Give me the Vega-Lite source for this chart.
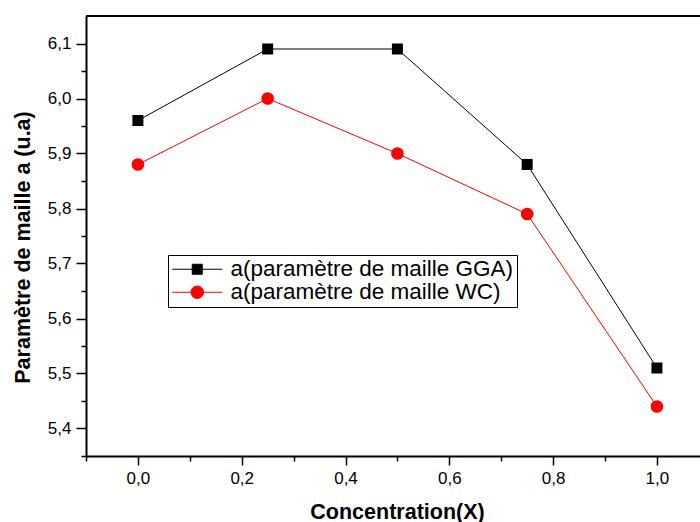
{
  "$schema": "https://vega.github.io/schema/vega-lite/v6.json",
  "width": 614,
  "height": 440,
  "autosize": {"type": "none"},
  "padding": {"left": 86, "top": 16, "right": 0, "bottom": 66},
  "background": "white",
  "config": {
    "view": {"stroke": null},
    "font": "Liberation Sans",
    "locale": {"number": {"decimal": ",", "thousands": ".", "grouping": [3], "currency": ["", " €"]}}
  },
  "data": {
    "values": [
      {"x": 0.0, "y": 5.96, "s": "a(paramètre de maille GGA)"},
      {"x": 0.25, "y": 6.09, "s": "a(paramètre de maille GGA)"},
      {"x": 0.5, "y": 6.09, "s": "a(paramètre de maille GGA)"},
      {"x": 0.75, "y": 5.88, "s": "a(paramètre de maille GGA)"},
      {"x": 1.0, "y": 5.51, "s": "a(paramètre de maille GGA)"},
      {"x": 0.0, "y": 5.88, "s": "a(paramètre de maille WC)"},
      {"x": 0.25, "y": 6.0, "s": "a(paramètre de maille WC)"},
      {"x": 0.5, "y": 5.9, "s": "a(paramètre de maille WC)"},
      {"x": 0.75, "y": 5.79, "s": "a(paramètre de maille WC)"},
      {"x": 1.0, "y": 5.44, "s": "a(paramètre de maille WC)"}
    ]
  },
  "layer": [
    {
      "transform": [{"filter": "datum.s == 'a(paramètre de maille WC)'"}],
      "mark": {"type": "line", "strokeWidth": 1, "color": "red"},
      "encoding": {
        "x": {
          "field": "x", "type": "quantitative",
          "scale": {"domain": [-0.1, 1.083], "nice": false, "zero": false},
          "axis": {
            "title": "Concentration(X)",
            "values": [-0.1, 0, 0.1, 0.2, 0.3, 0.4, 0.5, 0.6, 0.7, 0.8, 0.9, 1.0],
            "tickCount": 30,
            "labelExpr": "round(datum.value*10) % 2 != 0 ? '' : replace(format(datum.value, '.1f'), '.', ',')",
            "tickSize": {"condition": {"test": "round(datum.value*10) % 2 != 0", "value": 5}, "value": 9},
            "grid": false, "labelFlush": false, "labelOverlap": false,
            "domainColor": "black", "domainWidth": 2, "tickColor": "black", "tickWidth": 1.5,
            "labelFontSize": 17, "labelColor": "black", "labelPadding": 5,
            "titleFontSize": 21.5, "titleFontWeight": "bold", "titleColor": "black", "titlePadding": 15,
            "titleX": 311
          }
        },
        "y": {
          "field": "y", "type": "quantitative",
          "scale": {"domain": [5.35, 6.15], "nice": false, "zero": false},
          "axis": {
            "title": "Paramètre de maille a (u.a)",
            "values": [5.35, 5.4, 5.45, 5.5, 5.55, 5.6, 5.65, 5.7, 5.75, 5.8, 5.85, 5.9, 5.95, 6.0, 6.05, 6.1],
            "tickCount": 30,
            "labelExpr": "round(datum.value*20) % 2 != 0 ? '' : replace(format(datum.value, '.1f'), '.', ',')",
            "tickSize": {"condition": {"test": "round(datum.value*20) % 2 != 0", "value": 5}, "value": 10},
            "grid": false, "labelFlush": false, "labelOverlap": false,
            "domainColor": "black", "domainWidth": 2, "tickColor": "black", "tickWidth": 1.5,
            "labelFontSize": 17, "labelColor": "black", "labelPadding": 5,
            "titleFontSize": 21.5, "titleFontWeight": "bold", "titleColor": "black", "titlePadding": 13,
            "titleY": 231
          }
        }
      }
    },
    {
      "transform": [{"filter": "datum.s == 'a(paramètre de maille GGA)'"}],
      "mark": {"type": "line", "strokeWidth": 1, "color": "black"},
      "encoding": {
        "x": {"field": "x", "type": "quantitative"},
        "y": {"field": "y", "type": "quantitative"}
      }
    },
    {
      "transform": [{"filter": "datum.s == 'a(paramètre de maille GGA)'"}],
      "mark": {"type": "point", "filled": true, "opacity": 1, "shape": "square", "size": 121, "color": "black"},
      "encoding": {
        "x": {"field": "x", "type": "quantitative"},
        "y": {"field": "y", "type": "quantitative"}
      }
    },
    {
      "transform": [{"filter": "datum.s == 'a(paramètre de maille WC)'"}],
      "mark": {"type": "point", "filled": true, "opacity": 1, "shape": "circle", "size": 160, "color": "red"},
      "encoding": {
        "x": {"field": "x", "type": "quantitative"},
        "y": {"field": "y", "type": "quantitative"}
      }
    },
    {
      "transform": [{"filter": "datum.x > 5"}],
      "mark": {"type": "point", "filled": false, "opacity": 1, "strokeWidth": 1},
      "encoding": {
        "x": {"field": "x", "type": "quantitative"},
        "y": {"field": "y", "type": "quantitative"},
        "color": {
          "field": "s", "type": "nominal",
          "scale": {"domain": ["a(paramètre de maille GGA)", "a(paramètre de maille WC)"], "range": ["black", "red"]},
          "legend": {
            "title": null, "orient": "none", "legendX": 82, "legendY": 239,
            "padding": 3, "strokeColor": "black", "fillColor": "white",
            "labelFont": "Liberation Sans", "labelFontSize": 22.5, "labelColor": "black",
            "symbolSize": 100, "symbolStrokeWidth": 1, "labelOffset": 37, "rowPadding": -1, "labelLimit": 0
          }
        },
        "fill": {
          "field": "s", "type": "nominal",
          "scale": {"domain": ["a(paramètre de maille GGA)", "a(paramètre de maille WC)"], "range": ["black", "red"]},
          "legend": {
            "title": null, "orient": "none", "legendX": 82, "legendY": 239,
            "padding": 3, "strokeColor": "black", "fillColor": "white",
            "labelFont": "Liberation Sans", "labelFontSize": 22.5, "labelColor": "black",
            "symbolSize": 100, "symbolStrokeWidth": 1, "labelOffset": 37, "rowPadding": -1, "labelLimit": 0
          }
        },
        "shape": {
          "field": "s", "type": "nominal",
          "scale": {
            "domain": ["a(paramètre de maille GGA)", "a(paramètre de maille WC)"],
            "range": ["M-2,0H8M2,-1H4V1H2Z", "M-2,0H8M4.25,0A1.25,1.25,0,1,1,1.75,0A1.25,1.25,0,1,1,4.25,0Z"]
          },
          "legend": {
            "title": null, "orient": "none", "legendX": 82, "legendY": 239,
            "padding": 3, "strokeColor": "black", "fillColor": "white",
            "labelFont": "Liberation Sans", "labelFontSize": 22.5, "labelColor": "black",
            "symbolSize": 100, "symbolStrokeWidth": 1, "labelOffset": 37, "rowPadding": -1, "labelLimit": 0
          }
        }
      }
    },
    {
      "mark": {"type": "rule", "strokeWidth": 2, "color": "black"},
      "encoding": {"y": {"datum": 6.15, "type": "quantitative"}}
    }
  ]
}
